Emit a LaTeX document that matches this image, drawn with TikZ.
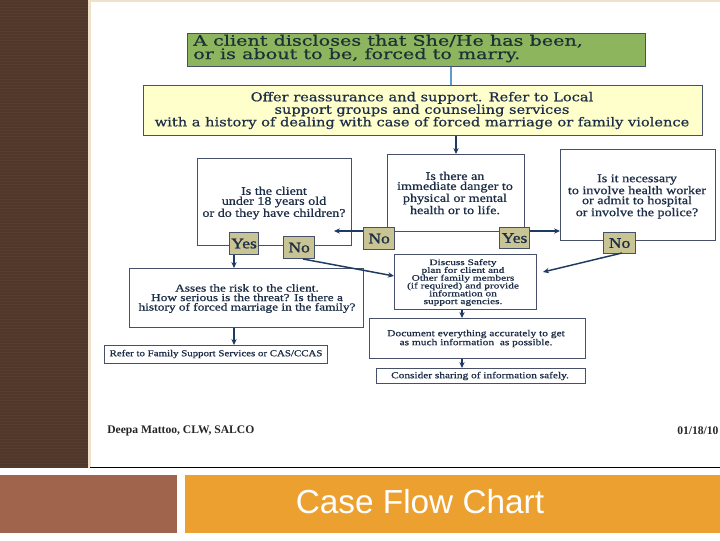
\documentclass[tikz,border=0pt]{standalone}
\usepackage{fontspec}
\setmainfont{Liberation Serif}
\newfontfamily\greenfont[FakeStretch=1.33,FakeBold=0.6]{DejaVu Serif}
\newfontfamily\yellowfont[FakeStretch=1.19,FakeBold=0.6]{DejaVu Serif}
\newfontfamily\serifA[FakeStretch=1.2,FakeBold=0.8]{Liberation Serif}
\newfontfamily\serifB[FakeStretch=1.25,FakeBold=0.8]{Liberation Serif}
\newfontfamily\serifC[FakeStretch=1.35,FakeBold=0.8]{Liberation Serif}
\newfontfamily\tagfont[FakeStretch=1.2,FakeBold=1.2]{Liberation Serif}
\newfontfamily\titlesans{Liberation Sans}
\usetikzlibrary{arrows.meta}
\definecolor{stripbrown}{HTML}{4F3729}
\definecolor{stripline}{HTML}{563C2E}
\definecolor{edgebeige}{HTML}{EFE2C8}
\definecolor{baseline}{HTML}{7A4E22}
\definecolor{brownbox}{HTML}{A0644C}
\definecolor{orangebox}{HTML}{EBA030}
\definecolor{boxline}{HTML}{46506A}
\definecolor{boxtext}{HTML}{1E2E48}
\definecolor{greentext}{HTML}{1C3038}
\definecolor{greenfill}{HTML}{8DB55E}
\definecolor{yellowfill}{HTML}{FFFFCC}
\definecolor{khaki}{HTML}{C9C493}
\definecolor{arrowcol}{HTML}{1F3A60}
\definecolor{lightblue}{HTML}{5A9BD0}
\tikzset{
  box/.style={draw=boxline, line width=0.9pt, fill=white, text=boxtext, align=center, inner sep=0pt},
  tag/.style={draw=boxline, line width=0.9pt, fill=khaki, text=boxtext, inner sep=0pt},
  tagtext/.style={text=boxtext, inner sep=0pt, font=\tagfont\fontsize{11}{12}\selectfont},
  qtext/.style={text=boxtext, align=center, inner sep=0pt, font=\serifA\fontsize{8.8}{7.5}\selectfont},
  arr/.style={draw=arrowcol, line width=1.1pt, -{Stealth[length=4.5pt,width=4pt]}},
}
\begin{document}
\begin{tikzpicture}[x=0.75pt,y=-0.75pt]
\useasboundingbox (0,0) rectangle (720,540);
\fill[white] (0,0) rectangle (720,540);
% left strip
\fill[stripbrown] (0,0) rectangle (90,468);
\foreach \k in {0,...,155}{\draw[stripline, line width=0.4pt] (0,\k*3+1) -- (88,\k*3+1);}
\fill[edgebeige] (88,0) rectangle (90.5,468);
\fill[edgebeige] (90,0) rectangle (720,1.5);
\draw[baseline, line width=1.2pt] (90,467.5) -- (720,467.5);
% bottom bands
\fill[brownbox] (0,475) rectangle (177,533);
\node[fill=orangebox, minimum width=535*0.75pt, minimum height=58*0.75pt, inner sep=0pt, anchor=north west] (title) at (185,475) {};
\node[text=white, font=\titlesans\fontsize{25}{28}\selectfont] (titletext) at (420,502) {Case Flow Chart};

% top boxes
\node[box, fill=greenfill, minimum width=458*0.75pt, minimum height=33*0.75pt, anchor=north west] (green) at (187,33) {};
\node[text=greentext, anchor=west, align=left, inner sep=0pt, font=\greenfont\fontsize{10.8}{10}\selectfont] (greentext) at (193,48.5) {A client discloses that She/He has been,\\or is about to be, forced to marry.};
\node[box, fill=yellowfill, minimum width=559*0.75pt, minimum height=50*0.75pt, anchor=north west] (yellow) at (143,85) {};
\node[text=boxtext, align=center, inner sep=0pt, font=\yellowfont\fontsize{9.2}{9.4}\selectfont] (yellowtext) at (422,110.5) {Offer reassurance and support. Refer to Local\\support groups and counseling services\\with a history of dealing with case of forced marriage or family violence};

% question boxes
\node[box, minimum width=154*0.75pt, minimum height=87*0.75pt, anchor=north west] (q1) at (197,158) {};
\node[qtext] (q1text) at (274,203) {Is the client\\under 18 years old\\or do they have children?};
\node[box, minimum width=137*0.75pt, minimum height=77*0.75pt, anchor=north west] (q2) at (387,154) {};
\node[qtext] (q2text) at (455,193) {Is there an\\immediate danger to\\physical or mental\\health or to life.};
\node[box, minimum width=155*0.75pt, minimum height=91*0.75pt, anchor=north west] (q3) at (560,149) {};
\node[qtext] (q3text) at (637,196.5) {Is it necessary\\to involve health worker\\or admit to hospital\\or involve the police?};

% yes/no tags
\node[tag, minimum width=29*0.75pt, minimum height=22*0.75pt, anchor=north west] (yes1) at (229,232) {};
\node[tagtext] (yes1t) at (yes1.center) {Yes};
\node[tag, minimum width=31*0.75pt, minimum height=22*0.75pt, anchor=north west] (no1) at (283,236) {};
\node[tagtext] (no1t) at (no1.center) {No};
\node[tag, minimum width=31*0.75pt, minimum height=22*0.75pt, anchor=north west] (no2) at (363,227) {};
\node[tagtext] (no2t) at (no2.center) {No};
\node[tag, minimum width=30*0.75pt, minimum height=21*0.75pt, anchor=north west] (yes2) at (499,227) {};
\node[tagtext] (yes2t) at (yes2.center) {Yes};
\node[tag, minimum width=32*0.75pt, minimum height=21*0.75pt, anchor=north west] (no3) at (603,232) {};
\node[tagtext] (no3t) at (no3.center) {No};

% lower boxes
\node[box, minimum width=234*0.75pt, minimum height=59*0.75pt, anchor=north west] (assess) at (129,268) {};
\node[text=boxtext, align=center, inner sep=0pt, font=\serifB\fontsize{8}{7.1}\selectfont] (assesstext) at (247,298.5) {Asses the risk to the client.\\How serious is the threat? Is there a\\history of forced marriage in the family?};
\node[box, minimum width=223*0.75pt, minimum height=18*0.75pt, anchor=north west] (refer) at (104,345) {};
\node[text=boxtext, inner sep=0pt, font=\serifA\fontsize{6.8}{8}\selectfont] (refertext) at (216,354) {Refer to Family Support Services or CAS/CCAS};
\node[box, minimum width=142*0.75pt, minimum height=55*0.75pt, anchor=north west] (discuss) at (394,254) {};
\node[text=boxtext, align=center, inner sep=0pt, font=\serifC\fontsize{6.3}{5.85}\selectfont] (discusstext) at (463,282.5) {Discuss Safety\\plan for client and\\Other family members\\(if required) and provide\\information on\\support agencies.};
\node[box, minimum width=216*0.75pt, minimum height=40*0.75pt, anchor=north west] (doc) at (369,318) {};
\node[text=boxtext, align=center, inner sep=0pt, font=\serifB\fontsize{6.85}{6.75}\selectfont] (doctext) at (476,338.5) {Document everything accurately to get\\as much information\ \ as possible.};
\node[box, minimum width=209*0.75pt, minimum height=15*0.75pt, anchor=north west] (consider) at (376,368) {};
\node[text=boxtext, inner sep=0pt, font=\serifB\fontsize{6.8}{8}\selectfont] (considertext) at (480,376) {Consider sharing of information safely.};

% footer
\node[anchor=west, inner sep=0pt, font=\bfseries\fontsize{8.7}{9}\selectfont, text=black!85] (author) at (107,431) {Deepa Mattoo, CLW, SALCO};
\node[anchor=west, inner sep=0pt, font=\bfseries\fontsize{8.7}{9}\selectfont, text=black!85] (date) at (677,431) {01/18/10};

% connectors
\coordinate (gy) at (451,85);
\draw[lightblue, line width=0.8pt] (green.south -| gy) -- (gy);
\coordinate (q2top) at (456,154);
\draw[arr] (yellow.south -| q2top) -- (q2top);
\coordinate (q1end) at (334,231);
\draw[arr] (no2.west |- q1end) -- (q1end);
\draw[arr] (yes2.east |- q1end) -- (q3.west |- q1end);
\coordinate (yx) at (234,268);
\draw[arr] (yes1.south -| yx) -- (yx);
\coordinate (ax) at (234,345);
\draw[arr] (assess.south -| ax) -- (ax);
\coordinate (no1s) at (303,259);
\draw[arr] (no1s) -- (discuss.west |- 0,276);
\coordinate (no3s) at (622,253);
\coordinate (n3end) at (543,272);
\draw[arr] (no3s) -- (n3end);
\coordinate (dx) at (462,318);
\draw[arr] (discuss.south -| dx) -- (dx);
\coordinate (cx) at (462,368);
\draw[arr] (doc.south -| cx) -- (cx);
\end{tikzpicture}
\end{document}
